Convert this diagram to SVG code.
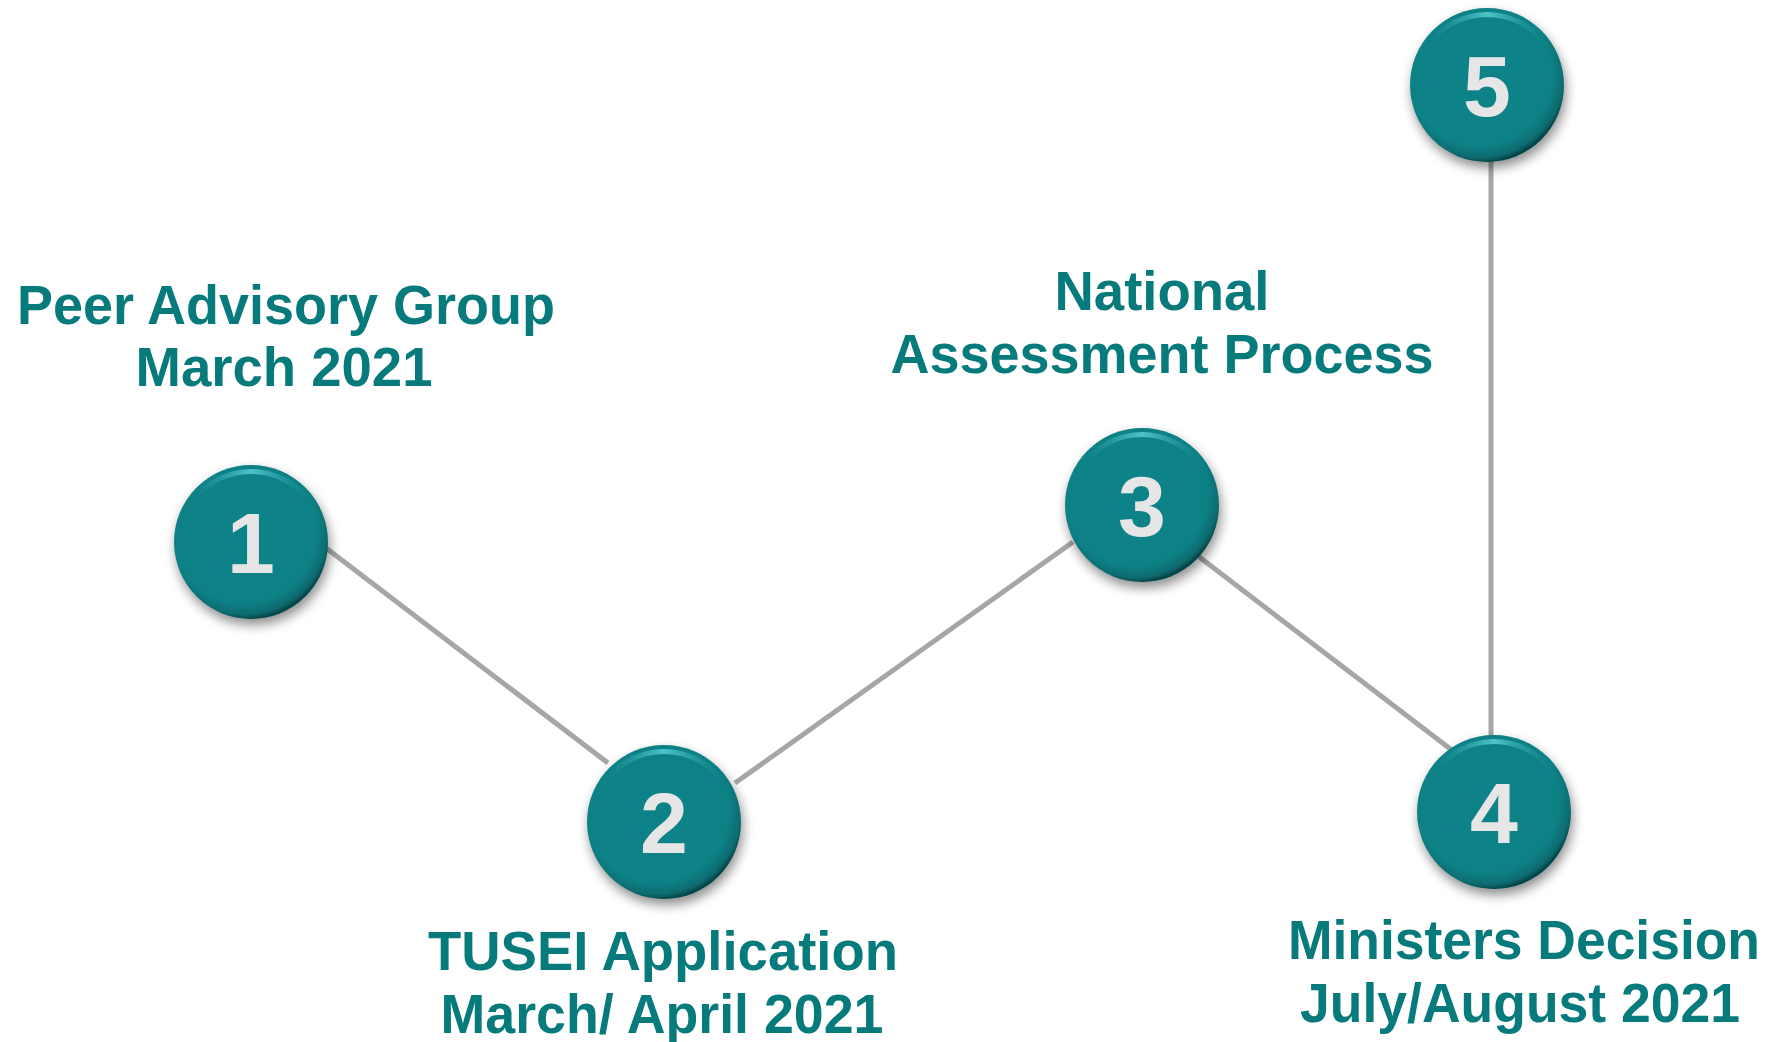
<svg xmlns="http://www.w3.org/2000/svg" width="1778" height="1042" viewBox="0 0 1778 1042">
<defs>
<style>
.lbl{font-family:"Liberation Sans",Arial,sans-serif;font-weight:bold;font-size:55px;fill:#077A7C;text-anchor:middle}
.num{font-family:"Liberation Sans",Arial,sans-serif;font-weight:bold;font-size:86px;fill:#E6E6E6;text-anchor:middle}
.conn{stroke:#A6A6A6;stroke-width:5;fill:none}
.ball{fill:url(#ballg);filter:url(#shadow)}
.hl{fill:none;stroke:url(#hlg);stroke-width:5;stroke-linecap:round}
</style>
<radialGradient id="ballg" cx="0.45" cy="0.42" r="0.58">
<stop offset="0" stop-color="#0E8389"/>
<stop offset="0.82" stop-color="#0D8186"/>
<stop offset="0.95" stop-color="#0A6B70"/>
<stop offset="1" stop-color="#06474B"/>
</radialGradient>
<linearGradient id="hlg" x1="0" y1="0" x2="1" y2="0">
<stop offset="0" stop-color="#2FA9AF" stop-opacity="0"/>
<stop offset="0.5" stop-color="#4CC3C8"/>
<stop offset="1" stop-color="#2FA9AF" stop-opacity="0"/>
</linearGradient>
<filter id="shadow" x="-30%" y="-30%" width="160%" height="170%">
<feGaussianBlur in="SourceAlpha" stdDeviation="6"/>
<feOffset dx="2" dy="6" result="b"/>
<feComponentTransfer><feFuncA type="linear" slope="0.45"/></feComponentTransfer>
<feMerge><feMergeNode/><feMergeNode in="SourceGraphic"/></feMerge>
</filter>
</defs>
<rect width="1778" height="1042" fill="#FFFFFF"/>
<g id="connectors">
<line class="conn" x1="326" y1="548" x2="608" y2="763"/>
<line class="conn" x1="735" y1="783" x2="1073" y2="542"/>
<line class="conn" x1="1198" y1="556" x2="1453" y2="751"/>
<line class="conn" x1="1491" y1="150" x2="1491" y2="745"/>
</g>
<g id="node1">
<circle class="ball" cx="251" cy="542" r="77"/>
<path class="hl" d="M196 497 A72 72 0 0 1 306 497"/>
<text class="num" x="251" y="573">1</text>
</g>
<g id="node2">
<circle class="ball" cx="664" cy="822" r="77"/>
<path class="hl" d="M609 777 A72 72 0 0 1 719 777"/>
<text class="num" x="664" y="853">2</text>
</g>
<g id="node3">
<circle class="ball" cx="1142" cy="505" r="77"/>
<path class="hl" d="M1087 460 A72 72 0 0 1 1197 460"/>
<text class="num" x="1142" y="536">3</text>
</g>
<g id="node4">
<circle class="ball" cx="1494" cy="812" r="77"/>
<path class="hl" d="M1439 767 A72 72 0 0 1 1549 767"/>
<text class="num" x="1494" y="843">4</text>
</g>
<g id="node5">
<circle class="ball" cx="1487" cy="85" r="77"/>
<path class="hl" d="M1432 40 A72 72 0 0 1 1542 40"/>
<text class="num" x="1487" y="116">5</text>
</g>
<g id="label1">
<text class="lbl" x="286" y="324" textLength="538" lengthAdjust="spacingAndGlyphs">Peer Advisory Group</text>
<text class="lbl" x="284" y="386" textLength="297" lengthAdjust="spacingAndGlyphs">March 2021</text>
</g>
<g id="label2">
<text class="lbl" x="663" y="970" textLength="470" lengthAdjust="spacingAndGlyphs">TUSEI Application</text>
<text class="lbl" x="662" y="1033" textLength="443" lengthAdjust="spacingAndGlyphs">March/ April 2021</text>
</g>
<g id="label3">
<text class="lbl" x="1162" y="310" textLength="215" lengthAdjust="spacingAndGlyphs">National</text>
<text class="lbl" x="1162" y="373" textLength="543" lengthAdjust="spacingAndGlyphs">Assessment Process</text>
</g>
<g id="label4">
<text class="lbl" x="1524" y="959" textLength="472" lengthAdjust="spacingAndGlyphs">Ministers Decision</text>
<text class="lbl" x="1520" y="1022" textLength="440" lengthAdjust="spacingAndGlyphs">July/August 2021</text>
</g>
</svg>
